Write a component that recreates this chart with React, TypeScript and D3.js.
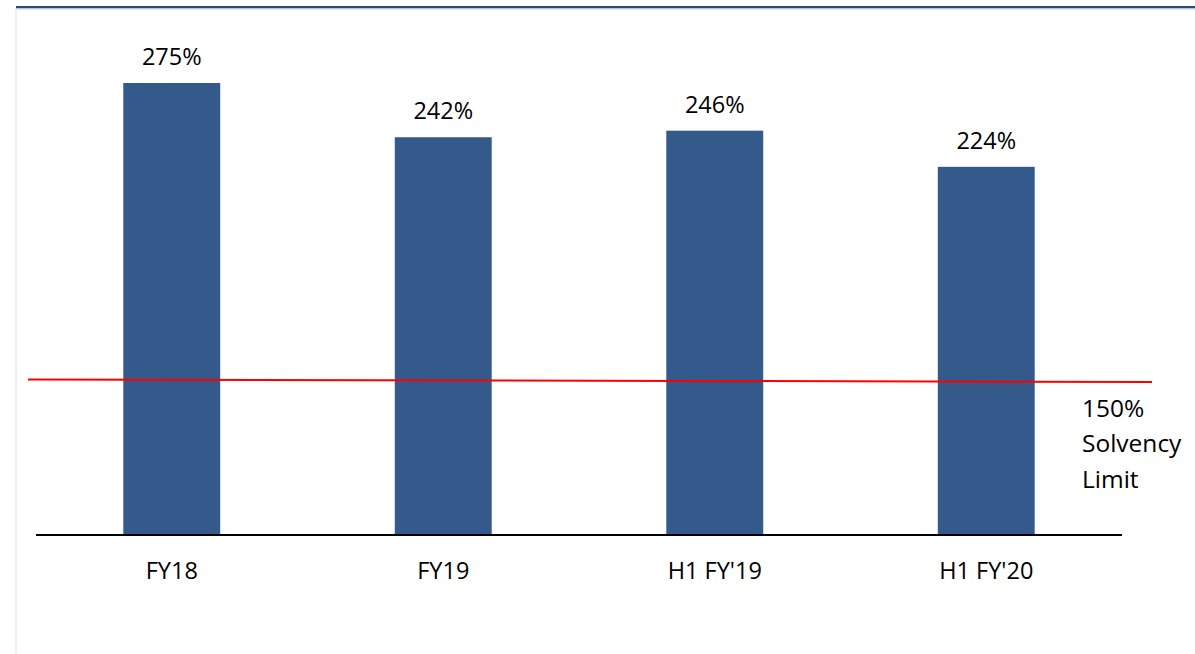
import React from "react";
import * as d3 from "d3";

const categories = ["FY18", "FY19", "H1 FY'19", "H1 FY'20"];
const solvencyValues = [275, 242, 246, 224];
const valueLabels = ["275%", "242%", "246%", "224%"];
// The drawn limit line sits visually at these scale values (left / right end)
const limitLineStart = 94.6;
const limitLineEnd = 93.1;
const limitLabelLines = ["150%", "Solvency", "Limit"];

const W = 1195;
const H = 654;
const FONT = "'Open Sans', 'Noto Sans', sans-serif";

export default function App() {
  const x = d3
    .scaleBand<string>()
    .domain(categories)
    .range([36, 1122])
    .paddingInner(0.643)
    .paddingOuter(0.3215);
  const y = d3.scaleLinear().domain([0, 275]).range([535, 83]);
  const barColor = "#335a8b";

  return (
    <svg
      width={W}
      height={H}
      style={{ position: "fixed", left: 0, top: 0, background: "#fff" }}
      fontFamily={FONT}
    >
      {/* frame lines */}
      <rect x={15} y={9} width={2} height={H - 9} fill="#efefef" />
      <rect x={16} y={6} width={W - 16} height={2.5} fill="#2e4a79" />
      <rect x={16} y={8.5} width={W - 16} height={1.5} fill="#dfe5ee" />

      {/* bars */}
      {categories.map((c, i) => (
        <rect
          key={c}
          x={x(c)}
          y={y(solvencyValues[i])}
          width={x.bandwidth()}
          height={y(0) - y(solvencyValues[i])}
          fill={barColor}
        />
      ))}

      {/* value labels */}
      {categories.map((c, i) => (
        <text
          key={c + "v"}
          x={(x(c) as number) + x.bandwidth() / 2}
          y={y(solvencyValues[i]) - 18}
          textAnchor="middle"
          fontSize={23.5}
          fill="#000"
        >
          {valueLabels[i]}
        </text>
      ))}

      {/* baseline axis */}
      <line x1={36} x2={1122} y1={y(0)} y2={y(0)} stroke="#000" strokeWidth={2} />

      {/* category labels */}
      {categories.map((c) => (
        <text
          key={c + "c"}
          x={(x(c) as number) + x.bandwidth() / 2}
          y={579}
          textAnchor="middle"
          fontSize={23.5}
          fill="#000"
        >
          {c}
        </text>
      ))}

      {/* limit line */}
      <line
        x1={28}
        x2={1152}
        y1={y(limitLineStart)}
        y2={y(limitLineEnd)}
        stroke="#ff0000"
        strokeWidth={2}
      />
      {limitLabelLines.map((t, i) => (
        <text key={t} x={1082} y={417 + i * 35.3} fontSize={24.5} fill="#000">
          {t}
        </text>
      ))}
    </svg>
  );
}
